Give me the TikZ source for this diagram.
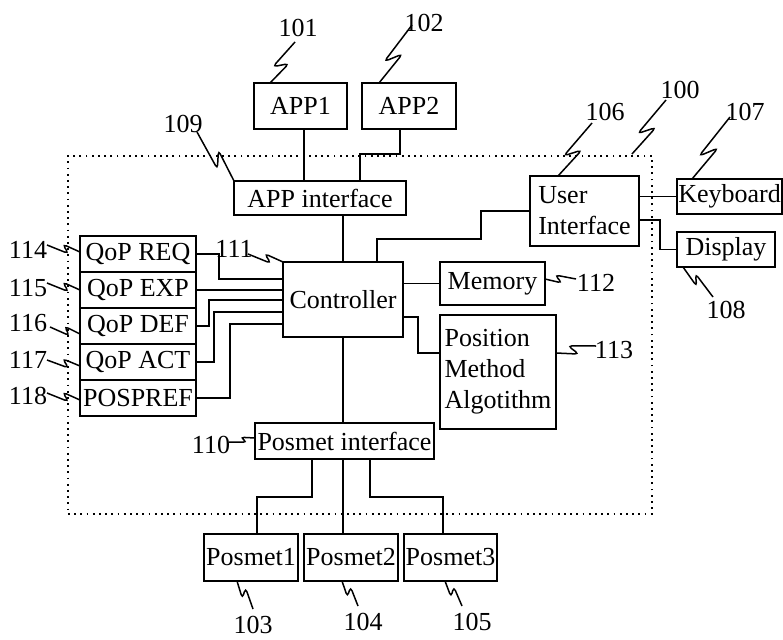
\documentclass[tikz,border=0pt]{standalone}
\usepackage{fontspec}
\setmainfont{Liberation Serif}
\usetikzlibrary{calc}
\newcommand\fs{\fontsize{26}{31}\selectfont}
\tikzset{
  box/.style={draw, line width=1.8pt, inner sep=0pt, font=\fs},
  wire/.style={line width=1.7pt},
  lead/.style={line width=1.5pt, rounded corners=4pt},
  num/.style={inner sep=0pt, font=\fs},
  sysbox/.style={draw, line width=1.8pt, dash pattern=on 1.8pt off 4.4pt, inner sep=0pt},
}
\newcommand\leadline[3][6pt]{\draw[lead] (#2) -- ($(#2)!0.68!(#3)!#1!-90:(#3)$) -- ($(#2)!0.45!(#3)!#1!90:(#3)$) -- (#3);}
\begin{document}
\begin{tikzpicture}[x=1pt,y=-1pt]
\useasboundingbox (0,0) rectangle (783,639);
% system boundary
\node[sysbox, minimum width=584pt, minimum height=358pt] (sys) at (360,335) {};
% boxes
\node[box, fill=white, minimum width=93pt, minimum height=46pt] (app1) at (300.5,106) {APP1};
\node[box, fill=white, minimum width=94pt, minimum height=46pt] (app2) at (409,106) {APP2};
\node[box, fill=white, minimum width=172pt, minimum height=34pt] (appif) at (320,198) {APP interface};
\node[box, fill=white, minimum width=109pt, minimum height=70pt, align=left] (ui) at (584.5,211) {User\\Interface};
\node[box, fill=white, minimum width=105pt, minimum height=35pt] (kbd) at (729.5,196.5) {Keyboard};
\node[box, fill=white, minimum width=98pt, minimum height=35pt] (disp) at (726,249.5) {Display};
\node[box, fill=white, minimum width=120pt, minimum height=75pt] (ctrl) at (343,299.5) {Controller};
\node[box, fill=white, minimum width=105pt, minimum height=43pt] (mem) at (492.5,283.5) {Memory};
\node[box, fill=white, minimum width=116pt, minimum height=114pt, align=left] (pma) at (498,372) {Position\\Method\\Algotithm};
\node[box, fill=white, minimum width=116pt, minimum height=36pt] (q1) at (138,254) {QoP REQ};
\node[box, fill=white, minimum width=116pt, minimum height=36pt] (q2) at (138,290) {QoP EXP};
\node[box, fill=white, minimum width=116pt, minimum height=36pt] (q3) at (138,326) {QoP DEF};
\node[box, fill=white, minimum width=116pt, minimum height=36pt] (q4) at (138,362) {QoP ACT};
\node[box, fill=white, minimum width=116pt, minimum height=36pt] (q5) at (138,398) {POSPREF};
\node[box, fill=white, minimum width=179pt, minimum height=36pt] (posif) at (344.5,441) {Posmet interface};
\node[box, fill=white, minimum width=94pt, minimum height=47pt] (pm1) at (251,557.5) {Posmet1};
\node[box, fill=white, minimum width=94pt, minimum height=47pt] (pm2) at (351,557.5) {Posmet2};
\node[box, fill=white, minimum width=93pt, minimum height=47pt] (pm3) at (450.5,557.5) {Posmet3};
% connectors
\coordinate (a1) at ($(app1.south)+(3.5,0)$);
\draw[wire] (a1) -- (a1 |- appif.north);
\draw[wire] ($(app2.south)+(-9,0)$) -- ++(0,24) -| ($(appif.north)+(40,0)$);
\draw[wire] (ctrl.north) -- (ctrl.north |- appif.south);
\draw[wire] (ctrl.south) -- (ctrl.south |- posif.north);
\draw[wire] (ui.west) -| ++(-48,28) -| ($(ctrl.north)+(34,0)$);
\draw[wire] (kbd.west) -- (kbd.west -| ui.east);
\draw[wire] ($(ui.east)+(0,9)$) -- ++(20,0) |- (disp.west);
\draw[wire] (mem.west -| ctrl.east) -- (mem.west);
\draw[wire] ($(ctrl.east)+(0,17.5)$) -- ++(14,0) |- ($(pma.west)+(0,-19)$);
\draw[wire] (q1.east) -- ++(22,0) |- ($(ctrl.north west)+(0,18)$);
\draw[wire] (q2.east) -- (q2.east -| ctrl.west);
\draw[wire] (q3.east) -- ++(12,0) |- ($(ctrl.north west)+(0,39)$);
\draw[wire] (q4.east) -- ++(17,0) |- ($(ctrl.north west)+(0,51)$);
\draw[wire] (q5.east) -- ++(33,0) |- ($(ctrl.north west)+(0,63)$);
\draw[wire] ($(posif.south)+(-32.5,0)$) -- ++(0,37) -| ($(pm1.north)+(6,0)$);
\coordinate (p2) at ($(posif.south)+(-1.5,0)$);
\draw[wire] (p2) -- (p2 |- pm2.north);
\draw[wire] ($(posif.south)+(25.5,0)$) -- ++(0,37) -| ($(pm3.north)+(-7.5,0)$);
% reference numerals
\node[num] (l101) at (298,28) {101};
\node[num] (l102) at (424,23) {102};
\node[num] (l109) at (183,124) {109};
\node[num] (l106) at (605,112) {106};
\node[num] (l100) at (680,90) {100};
\node[num] (l107) at (745,112) {107};
\node[num] (l108) at (726,310) {108};
\node[num] (l112) at (596,283) {112};
\node[num] (l113) at (614,350) {113};
\node[num] (l114) at (28,250) {114};
\node[num] (l115) at (28,288) {115};
\node[num] (l116) at (28,323) {116};
\node[num] (l117) at (28,360) {117};
\node[num] (l118) at (28,396) {118};
\node[num] (l111) at (234,249) {111};
\node[num] (l110) at (211,445) {110};
\node[num] (l103) at (253,625) {103};
\node[num] (l104) at (363,622) {104};
\node[num] (l105) at (472,622) {105};
% lead lines
\coordinate (t101) at (295,42);  \coordinate (b101) at (270,83);
\coordinate (t102) at (412,25);  \coordinate (b102) at (379,83);
\coordinate (t109) at (197,132); \coordinate (b109) at (234,181);
\coordinate (t106) at (592,123); \coordinate (b106) at (558,176);
\coordinate (t100) at (666,100); \coordinate (b100) at (632,154);
\coordinate (t107) at (730,117); \coordinate (b107) at (692,179);
\coordinate (t108) at (713,297); \coordinate (b108) at (683,267);
\coordinate (t112) at (576,279); \coordinate (b112) at (545,279);
\coordinate (t113) at (596,346); \coordinate (b113) at (556,353);
\coordinate (t114) at (47,245);  \coordinate (b114) at (80,252);
\coordinate (t115) at (47,283);  \coordinate (b115) at (80,290);
\coordinate (t116) at (50,327);  \coordinate (b116) at (80,334);
\coordinate (t117) at (47,360);  \coordinate (b117) at (80,366);
\coordinate (t118) at (47,393);  \coordinate (b118) at (80,400);
\coordinate (t111) at (248,254); \coordinate (b111) at (283,262);
\coordinate (t110) at (229,442); \coordinate (b110) at (255,438);
\coordinate (t103) at (253,609); \coordinate (b103) at (237,581);
\coordinate (t104) at (358,606); \coordinate (b104) at (342,581);
\coordinate (t105) at (462,606); \coordinate (b105) at (445,581);
\leadline{t101}{b101}
\leadline{t102}{b102}
\leadline{t109}{b109}
\leadline{t106}{b106}
\leadline{t100}{b100}
\leadline{t107}{b107}
\leadline[4pt]{t108}{b108}
\leadline[4pt]{t112}{b112}
\leadline[5pt]{t113}{b113}
\leadline[4pt]{t114}{b114}
\leadline[4pt]{t115}{b115}
\leadline[4pt]{t116}{b116}
\leadline[4pt]{t117}{b117}
\leadline[4pt]{t118}{b118}
\leadline[4pt]{t111}{b111}
\leadline[3pt]{t110}{b110}
\leadline[4pt]{t103}{b103}
\leadline[4pt]{t104}{b104}
\leadline[4pt]{t105}{b105}
\end{tikzpicture}
\end{document}
